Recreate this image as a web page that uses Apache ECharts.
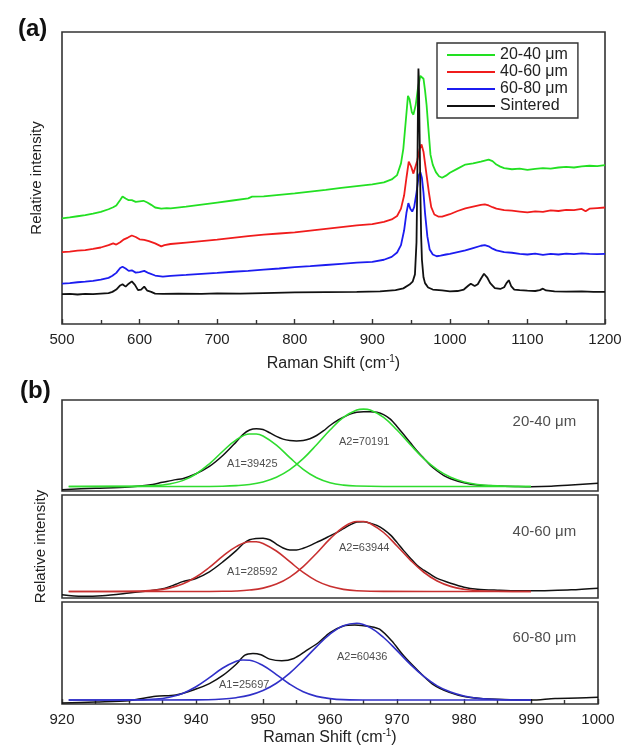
<!DOCTYPE html>
<html><head><meta charset="utf-8">
<script src="https://cdn.jsdelivr.net/npm/echarts@6/dist/echarts.min.js"></script>
<style>html,body{margin:0;padding:0;background:#fff}#c{width:638px;height:748px}</style>
</head><body><div id="c"></div>
<script>
// ---------- Panel (a): Raman spectra, [shift cm-1, relative intensity] ----------
const ticksA = [500, 600, 700, 800, 900, 1000, 1100, 1200];
const legendNames = ['20-40 μm', '40-60 μm', '60-80 μm', 'Sintered'];

const green2040 = [[500,36.2],[510,36.5],[520,36.9],[530,37.3],[540,37.8],[550,38.4],[560,39.3],[566,40],[570,40.6],[575,42.5],[578,43.7],[582,43],[586,42.4],[590,42.4],[595,41.8],[600,42],[605,42.2],[610,41.6],[615,40.8],[620,39.9],[628,39.5],[635,39.7],[640,39.6],[660,40.2],[680,40.9],[700,41.6],[720,42.3],[740,43],[745,43.6],[760,43.7],[780,44.2],[800,44.7],[820,45.3],[840,45.9],[860,46.6],[880,47.2],[900,47.8],[915,48.5],[925,49.5],[932,51],[937,55],[940,60],[943,69],[946,78.1],[948,77],[951,72.5],[953,71.7],[956,75],[959,81],[962,85],[964,85.6],[966,84],[968,80],[970,75],[972,68],[975,58],[978,54.5],[982,52],[986,50.6],[990,50.1],[995,50.8],[1000,51.8],[1010,53.2],[1020,54.6],[1030,55],[1040,55.6],[1050,56.3],[1055,55.8],[1060,54.6],[1065,53.9],[1070,53.4],[1080,53],[1090,53.2],[1100,52.8],[1110,53.1],[1120,53.4],[1130,53.2],[1140,53.6],[1150,53.8],[1160,53.6],[1170,54],[1180,54.2],[1190,54.1],[1200,54.4]];

const red4060 = [[500,24.6],[510,24.8],[520,25.1],[530,25.3],[540,25.7],[550,26.2],[560,27],[566,27.6],[570,27.2],[575,28],[580,29],[585,29.6],[590,30.3],[595,29.8],[600,29],[606,28.8],[612,28.4],[620,27.6],[628,26.6],[632,27],[640,27.4],[660,27.9],[680,28.4],[700,28.9],[720,29.5],[740,30.1],[760,30.6],[780,31],[800,31.4],[820,32],[840,32.6],[860,33.2],[880,33.8],[900,34.2],[915,35],[925,35.8],[932,37],[937,39.5],[941,44],[944,50],[947,55.6],[950,54],[953,51.5],[955,52],[958,56],[961,60],[963.5,61.5],[966,59],[968,55],[970,51],[973,45],[976,40],[980,37.5],[985,36.8],[990,36.8],[995,37.2],[1000,37.6],[1010,38.7],[1020,39.6],[1030,40.2],[1040,40.8],[1045,41],[1050,40.6],[1055,40],[1060,39.5],[1070,39],[1080,38.8],[1090,38.5],[1100,38.2],[1110,38.6],[1120,38.4],[1130,38.9],[1140,38.7],[1150,39.1],[1160,39],[1170,39.4],[1175,38.6],[1180,39.5],[1190,39.7],[1200,39.9]];

const blue6080 = [[500,13.8],[510,14],[520,14.3],[530,14.5],[540,14.8],[550,15.2],[560,15.8],[565,16.5],[570,17.5],[575,19.2],[578,19.6],[582,19],[586,18.2],[590,18.4],[595,17.6],[600,17.8],[606,18.2],[612,17.4],[620,16.6],[630,16.2],[640,16.5],[660,16.8],[680,17.2],[700,17.5],[720,17.9],[740,18.2],[760,18.6],[780,19],[800,19.5],[820,19.8],[840,20.2],[860,20.6],[880,21],[900,21.3],[915,22],[925,23],[932,24.5],[937,27],[941,32],[944,38],[946.5,41.4],[949,39.5],[951.5,38.5],[954,40],[957,45],[960,51],[962,52],[964,50],[966,45],[968,38],[971,30],[974,25.5],[978,23.8],[983,23.2],[988,23.4],[995,23.8],[1000,24],[1010,24.6],[1020,25.2],[1030,26],[1040,26.8],[1045,27],[1050,26.6],[1055,25.8],[1060,25.2],[1070,24.6],[1080,24.4],[1090,24],[1100,23.8],[1110,24.1],[1120,23.7],[1130,24],[1140,23.8],[1150,24.1],[1160,23.9],[1170,24.2],[1180,24],[1190,23.9],[1200,24]];

const sintered = [[500,10.2],[510,10.3],[520,10.1],[530,10.3],[540,10.2],[550,10.4],[560,10.6],[565,11],[570,11.8],[575,13.2],[578,13.6],[582,12.8],[586,13.8],[590,14.6],[594,13.4],[598,11.6],[602,11.8],[606,12.8],[610,11.4],[615,11],[620,10.4],[630,10.3],[650,10.4],[680,10.3],[700,10.5],[730,10.4],[760,10.6],[800,10.8],[840,10.9],[880,11],[910,11.2],[930,11.6],[940,12.2],[948,13.5],[952,14.5],[955,17],[957,28],[958,48],[959,78],[959.5,87.5],[960,84],[961,65],[962,45],[963,30],[964,22],[966,16],[968,14],[972,12.5],[978,11.8],[990,11.5],[1000,11.2],[1010,11.3],[1018,11.8],[1024,13.2],[1027,13.8],[1032,13],[1036,13.6],[1040,15.5],[1044,17.2],[1048,16],[1052,14],[1058,12.3],[1065,12],[1070,12.6],[1073,14],[1076,15],[1079,13],[1083,11.8],[1090,11.6],[1100,11.4],[1110,11.3],[1116,11.6],[1120,12.1],[1124,11.5],[1135,11.2],[1150,11.1],[1170,11.2],[1185,11],[1200,11]];

// ---------- Panel (b): band 920-1000 cm-1 with two fitted peaks ----------
const ticksB = [920, 930, 940, 950, 960, 970, 980, 990, 1000];
const subLabels = ['20-40 μm', '40-60 μm', '60-80 μm'];

const raw1 = [[920,1.5],[925,3],[930,4.5],[933,6.5],[935,9.5],[937,12.5],[938,13.5],[940,19],[942,27],[944,39],[946,54],[947,62],[948,67],[949,68.5],[950,67.5],[951,64],[952,60],[953,57],[954,55.5],[955,55],[956,55.5],[957,57.5],[958,61],[959,66],[960,72],[961,77],[962,81],[963,84.5],[964,86.5],[965,87],[966,87],[967,86.5],[968,84],[969,79],[970,71],[971,62],[972,53],[973,44],[974,36],[975,28],[976,22],[977,17],[978,13.5],[980,9],[982,6.5],[985,5.5],[988,5],[990,4.8],[993,5.2],[996,6.5],[1000,8.5]];
const fitA1_1 = [[921,5],[930,5.1],[934,5.9],[936,7.6],[938,11.4],[940,18.7],[942,29.9],[944,43.7],[946,56.2],[948,62.7],[949,62.7],[950,60.4],[952,50.4],[954,36.7],[956,23.8],[958,14.5],[960,9.1],[962,6.5],[964,5.5],[968,5],[990,5]];
const fitA2_1 = [[921,5],[940,5],[944,5.3],[946,5.9],[948,7.2],[950,10],[952,15.1],[954,23.5],[956,35.6],[958,50.9],[960,67],[962,80.9],[964,88.9],[965,90],[966,88.9],[968,80.9],[970,67],[972,50.9],[974,35.6],[976,23.5],[978,15.1],[980,10],[982,7.2],[984,5.9],[986,5.3],[990,5]];

const raw2 = [[920,3.2],[923,1.6],[926,2.2],[930,4.8],[933,7],[935,8.9],[937,13.3],[938,15.9],[940,19],[942,25.4],[944,35],[946,46],[947,52.4],[948,56.5],[949,57.8],[950,58.1],[951,56.5],[952,52.4],[953,48.6],[954,46.7],[955,46.7],[956,48.3],[957,50.8],[958,54],[959,57],[960,60.3],[961,63.5],[962,67.3],[963,71],[964,73.7],[965,74],[966,72.7],[967,70.5],[968,66.7],[969,61.3],[970,54],[971,46],[972,38.7],[973,31.7],[974,27],[975,22.9],[976,19],[978,14.3],[980,10.5],[982,8.6],[985,7.6],[988,7],[990,7],[993,7.3],[996,7.9],[1000,9.5]];
const fitA1_2 = [[921,6.3],[930,6.4],[934,7.6],[936,9.6],[938,13.6],[940,20.4],[942,29.8],[944,40.6],[946,49.9],[948,54.6],[949,54.6],[950,53],[952,45.6],[954,35.2],[956,24.8],[958,16.6],[960,11.3],[962,8.4],[964,7.1],[968,6.4],[990,6.3]];
const fitA2_2 = [[921,6.3],[940,6.3],[944,6.5],[946,6.8],[948,7.7],[950,9.6],[952,13.5],[954,20.3],[956,30.5],[958,43.5],[960,57.4],[962,68.7],[964,74.3],[965,74.3],[966,72.4],[968,63.6],[970,50.5],[972,36.8],[974,25],[976,16.5],[978,11.3],[980,8.5],[982,7.1],[985,6.5],[990,6.3]];

const raw3 = [[920,1],[925,2],[930,3.3],[934,7.5],[937,8.8],[940,14.7],[942,20],[944,28],[946,39],[947.3,47.9],[948.5,49.5],[949.7,48.2],[951,44],[952.8,42.3],[954.6,44.6],[956.4,52],[958.3,60.3],[960,70],[962,76.5],[963.7,77.5],[966,75.9],[967.4,73.3],[969.2,61.9],[971,47.2],[972.9,34.2],[975.3,19.5],[977.8,11.4],[980.2,7.2],[983.9,4.9],[990,3.9],[993.6,5.5],[997,5.8],[1000,6.5]];
const fitA1_3 = [[921,3.9],[930,4],[934,4.9],[936,6.7],[938,10.4],[940,16.9],[942,25.8],[944,35.3],[946,41.9],[947,43.2],[948,42.9],[950,37.7],[952,28.8],[954,19.4],[956,12],[958,7.5],[960,5.3],[962,4.3],[966,3.9],[990,3.9]];
const fitA2_3 = [[921,3.9],[940,4],[944,4.9],[946,6.2],[948,8.7],[950,13.2],[952,20.3],[954,30.3],[956,42.8],[958,56.3],[960,68.6],[962,76.8],[964,79.2],[966,74.9],[968,65.2],[970,52.3],[972,38.8],[974,27],[976,17.8],[978,11.7],[980,7.8],[982,5.7],[985,4.4],[990,3.9]];

const areaLabels = [
  [{value:[948.4,29.7],name:'A1=39425'},{value:[965.1,53.8],name:'A2=70191'},{value:[992,76],name:subLabels[0],big:true}],
  [{value:[948.4,25.7],name:'A1=28592'},{value:[965.1,48.6],name:'A2=63944'},{value:[992,64],name:subLabels[1],big:true}],
  [{value:[947.2,18.6],name:'A1=25697'},{value:[964.8,45.9],name:'A2=60436'},{value:[992,65],name:subLabels[2],big:true}]
];

// ---------- styles ----------
const FONT = 'Liberation Sans';
const FRAME = '#333';
const colA = ['#22e022', '#f01c1c', '#1c1cf0', '#111'];
const colFit = ['#2fdc2f', '#c83030', '#3030c8'];

const grids = [
  {left:62, width:543, top:32, height:292},
  {left:62, width:536, top:400, height:91},
  {left:62, width:536, top:495, height:103},
  {left:62, width:536, top:602, height:102}
].map(g => Object.assign({show:true, borderColor:FRAME, borderWidth:1.6, backgroundColor:'transparent', containLabel:false}, g));

const nameRich = {sup:{fontSize:10, fontFamily:FONT, color:'#222', verticalAlign:'bottom', padding:[0,0,9,0]}};

function xAx(i, min, max, interval, showLabels, name, gap){
  return {
    gridIndex:i, type:'value', min, max, interval,
    axisLine:{show:false},
    axisTick:{show:showLabels, inside:true, length:5, lineStyle:{color:FRAME, width:1.4}},
    minorTick:{show:showLabels, splitNumber:2, length:4, lineStyle:{color:FRAME, width:1.4}},
    axisLabel:{show:showLabels, fontFamily:FONT, fontSize:15, color:'#222', margin:8, formatter: v => String(v)},
    splitLine:{show:false},
    name: name || '', nameLocation:'middle', nameGap: gap || 0,
    nameTextStyle:{fontFamily:FONT, fontSize:16, color:'#222', rich:nameRich}
  };
}
function yAx(i, min, max, name, gap){
  return {
    gridIndex:i, type:'value', min, max,
    axisLine:{show:false}, axisTick:{show:false}, axisLabel:{show:false}, splitLine:{show:false},
    name: name || '', nameLocation:'middle', nameGap: gap || 0,
    nameTextStyle:{fontFamily:FONT, fontSize:15, color:'#222'}
  };
}

const xAxes = [
  xAx(0, ticksA[0], ticksA[ticksA.length-1], 100, true, 'Raman Shift (cm{sup|-1})', 30),
  xAx(1, ticksB[0], ticksB[ticksB.length-1], 10, false),
  xAx(2, ticksB[0], ticksB[ticksB.length-1], 10, false),
  xAx(3, ticksB[0], ticksB[ticksB.length-1], 10, true, 'Raman Shift (cm{sup|-1})', 20)
];
const yAxes = [
  yAx(0, 0, 100, 'Relative intensity', 18),
  yAx(1, 0, 100),
  yAx(2, 0, 100, 'Relative intensity', 14),
  yAx(3, 0, 100)
];

function line(name, data, color, gi, width, smooth){
  return {name, type:'line', data, xAxisIndex:gi, yAxisIndex:gi, showSymbol:false, symbol:'none',
    smooth: smooth || false, lineStyle:{color, width: width || 1.6}, itemStyle:{color}, silent:true, animation:false};
}

const series = [
  line(legendNames[0], green2040, colA[0], 0, 1.8),
  line(legendNames[1], red4060, colA[1], 0, 1.8),
  line(legendNames[2], blue6080, colA[2], 0, 1.8),
  line(legendNames[3], sintered, colA[3], 0, 1.8),
];
const raws = [raw1, raw2, raw3];
const fits = [[fitA1_1, fitA2_1], [fitA1_2, fitA2_2], [fitA1_3, fitA2_3]];
for (let k = 0; k < 3; k++) {
  const gi = k + 1;
  series.push(line('raw' + k, raws[k], '#111', gi, 1.5, 0.3));
  series.push(line('fitA1_' + k, fits[k][0], colFit[k], gi, 1.6, 0.4));
  series.push(line('fitA2_' + k, fits[k][1], colFit[k], gi, 1.6, 0.4));
  series.push({
    name:'lab' + k, type:'scatter', xAxisIndex:gi, yAxisIndex:gi, symbolSize:0, silent:true, animation:false,
    data: areaLabels[k].map(d => ({value:d.value, name:d.name,
      label:{fontSize: d.big ? 15 : 11, color:'#222'}})),
    label:{show:true, position:'inside', formatter:'{b}', fontFamily:FONT, color:'#222'}
  });
}

const chart = echarts.init(document.getElementById('c'), null, {renderer:'canvas'});
chart.setOption({
  animation:false,
  backgroundColor:'#fff',
  title:[
    {text:'(a)', left:13, top:12, textStyle:{fontFamily:FONT, fontWeight:'bold', fontSize:24, color:'#111'}},
    {text:'(b)', left:15, top:374, textStyle:{fontFamily:FONT, fontWeight:'bold', fontSize:24, color:'#111'}}
  ],
  legend:{
    data: legendNames, orient:'vertical', left:437, top:43,
    icon:'rect', itemWidth:48, itemHeight:2, itemGap:1,
    padding:[4,10,4,10], borderColor:FRAME, borderWidth:1.4,
    textStyle:{fontFamily:FONT, fontSize:16, color:'#222'},
    selectedMode:false
  },
  grid: grids,
  xAxis: xAxes,
  yAxis: yAxes,
  series
});
</script>
</body></html>
